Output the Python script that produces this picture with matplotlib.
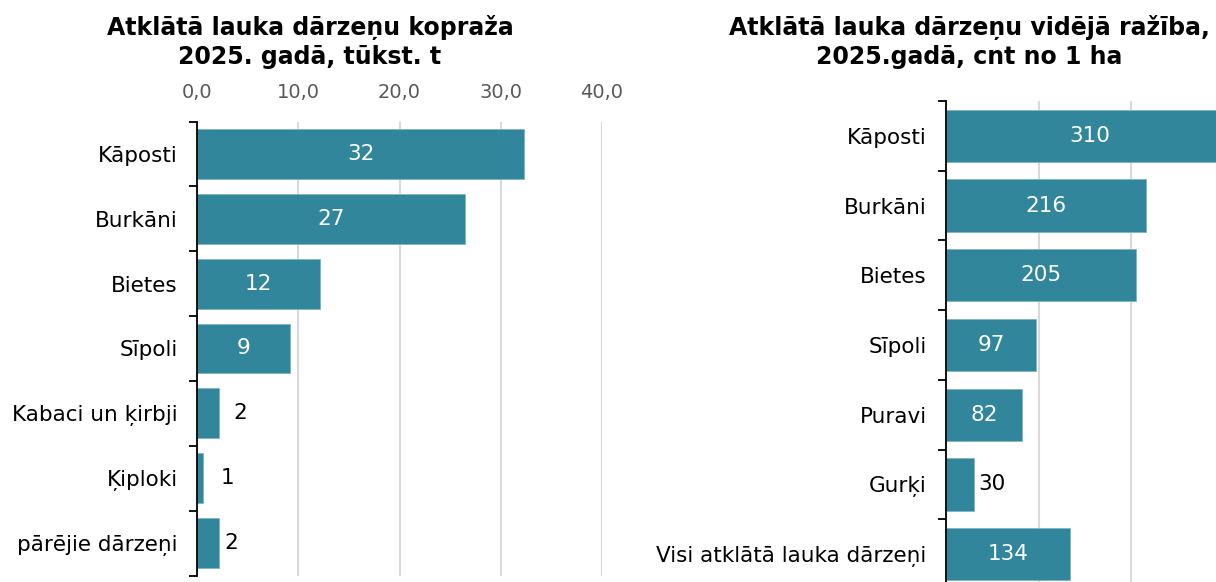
import matplotlib
matplotlib.use("Agg")
import matplotlib.pyplot as plt
import numpy as np

# Data
left_title = "Atklātā lauka dārzeņu kopraža\n2025. gadā, tūkst. t"
left_cats = ["Kāposti", "Burkāni", "Bietes", "Sīpoli", "Kabaci un ķirbji", "Ķiploki", "pārējie dārzeņi"]
left_vals = [32.3, 26.5, 12.1, 9.2, 2.2, 0.6, 2.2]
left_labels = ["32", "27", "12", "9", "2", "1", "2"]
left_ticks = [0, 10, 20, 30, 40]
left_ticklabels = ["0,0", "10,0", "20,0", "30,0", "40,0"]

right_title = "Atklātā lauka dārzeņu vidējā ražība,\n2025.gadā, cnt no 1 ha"
right_cats = ["Kāposti", "Burkāni", "Bietes", "Sīpoli", "Puravi", "Gurķi", "Visi atklātā lauka dārzeņi"]
right_vals = [310, 216, 205, 97, 82, 30, 134]
right_ticks = [0, 100, 200, 300]

BAR = "#31869B"
GRID = "#D9D9D9"
FS = 15.5
TFS = 17

plt.rcParams['font.family'] = ['DejaVu Sans']

fig = plt.figure(figsize=(12.16, 5.82), dpi=100)
W, H = 1216, 582

def make_ax(x0, x1, ytop, ybot):
    return fig.add_axes([x0 / W, 1 - ybot / H, (x1 - x0) / W, (ybot - ytop) / H])

def style(ax, cats, n):
    ax.set_ylim(n - 0.5, -0.5)
    ax.set_yticks(np.arange(-0.5, n, 1.0))
    ax.set_yticklabels([])
    ax.set_yticks(np.arange(n), minor=True)
    ax.set_yticklabels(cats, minor=True, fontsize=FS, color="black")
    ax.tick_params(axis="y", which="major", length=6, width=1.3, color="black", direction="out")
    ax.tick_params(axis="y", which="minor", length=0, pad=14)
    for s in ["top", "right", "bottom"]:
        ax.spines[s].set_visible(False)
    ax.spines["left"].set_linewidth(1.3)
    ax.spines["left"].set_color("black")
    ax.grid(axis="x", color=GRID, linewidth=1.5)
    ax.set_axisbelow(True)

# Left panel
axL = make_ax(197, 602, 121.5, 575.5)
n = len(left_cats)
y = np.arange(n)
axL.barh(y, left_vals, height=0.77, color=BAR, edgecolor="#7fb5c4", linewidth=0.6, zorder=2)
axL.set_xlim(0, 40)
style(axL, left_cats, n)
axL.xaxis.tick_top()
axL.set_xticks(left_ticks)
axL.set_xticklabels(left_ticklabels, fontsize=14, color="#595959")
axL.tick_params(axis="x", length=0, pad=14)
outside_offsets = {4: 21, 5: 24, 6: 12}
for i, (v, lab) in enumerate(zip(left_vals, left_labels)):
    if v > 5:
        axL.text(v / 2, i, lab, ha="center", va="center", color="white", fontsize=FS, zorder=3)
    else:
        axL.annotate(lab, (v, i), xytext=(outside_offsets.get(i, 10), 0), textcoords="offset pixels",
                     ha="center", va="center", color="black", fontsize=FS, zorder=3)

fig.text(310 / W, 1 - 42 / H, left_title, ha="center", va="center", fontsize=TFS,
         fontweight="bold", linespacing=1.3)

# Right panel
scale = 0.926
axR = make_ax(946, 946 + 320 * scale, 101, 589)
n2 = len(right_cats)
y2 = np.arange(n2)
axR.barh(y2, right_vals, height=0.75, color=BAR, edgecolor="#7fb5c4", linewidth=0.6, zorder=2)
axR.set_xlim(0, 320)
style(axR, right_cats, n2)
axR.set_xticks(right_ticks)
axR.tick_params(axis="x", length=0, labelbottom=False, labeltop=False)
for i, v in enumerate(right_vals):
    if v > 60:
        axR.text(v / 2, i, str(v), ha="center", va="center", color="white", fontsize=FS, zorder=3)
    else:
        axR.annotate(str(v), (v, i), xytext=(5, 0), textcoords="offset pixels",
                     ha="left", va="center", color="black", fontsize=FS, zorder=3)

fig.text(969 / W, 1 - 42 / H, right_title, ha="center", va="center", fontsize=TFS,
         fontweight="bold", linespacing=1.3)

fig.savefig("out.png", dpi=100)
